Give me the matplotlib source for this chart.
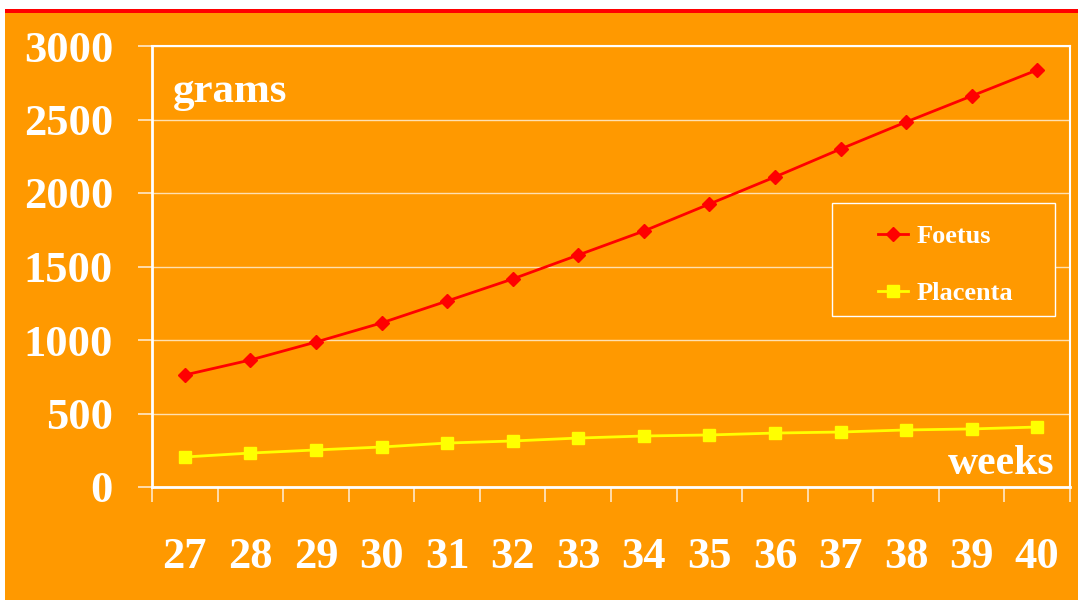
import matplotlib
matplotlib.use("Agg")
import matplotlib.pyplot as plt
from matplotlib.patches import Rectangle
import numpy as np

weeks = ["27", "28", "29", "30", "31", "32", "33", "34", "35", "36", "37", "38", "39", "40"]
foetus = [762, 864, 986, 1116, 1265, 1415, 1578, 1741, 1925, 2109, 2299, 2483, 2660, 2837]
placenta = [204, 231, 252, 272, 299, 313, 333, 347, 354, 367, 374, 388, 395, 408]
yticks = [0, 500, 1000, 1500, 2000, 2500, 3000]

ORANGE = "#FF9900"
SERIF = ["Liberation Serif", "DejaVu Serif"]

fig = plt.figure(figsize=(10.78, 6.0), dpi=100, facecolor="white")
fig.patches.append(Rectangle((5 / 1078, 0), 1 - 5 / 1078, (600 - 12) / 600,
                             transform=fig.transFigure, facecolor=ORANGE,
                             edgecolor="none", zorder=-10))
fig.patches.append(Rectangle((5 / 1078, (600 - 13) / 600), 1 - 5 / 1078, 4 / 600,
                             transform=fig.transFigure, facecolor="#FF0000",
                             edgecolor="none", zorder=-9))

AX_L, AX_R, AX_T, AX_B = 152, 1070, 46, 487
AW, AH = AX_R - AX_L, AX_B - AX_T
ax = fig.add_axes([AX_L / 1078, (600 - AX_B) / 600, AW / 1078, AH / 600])
ax.set_facecolor(ORANGE)

x = np.arange(len(weeks))
ax.plot(x, foetus, color="#FF0000", lw=2, marker="D", markersize=7,
        markerfacecolor="#FF0000", markeredgecolor="#FF0000", label="Foetus", zorder=3)
ax.plot(x, placenta, color="#FFFF00", lw=2, marker="s", markersize=9,
        markerfacecolor="#FFFF00", markeredgecolor="#FFFF00", label="Placenta", zorder=3)

ax.set_xlim(-0.5, len(weeks) - 0.5)
ax.set_ylim(0, 3000)
ax.set_yticks(yticks)
ax.set_yticklabels([str(v) for v in yticks], fontfamily=SERIF, fontweight="bold",
                   fontsize=32, color="white")
ax.set_xticks(x)
ax.set_xticklabels(weeks, fontfamily=SERIF, fontweight="bold", fontsize=32, color="white")
ax.set_xticks(np.arange(-0.5, len(weeks)), minor=True)
ax.tick_params(axis="x", which="major", length=0, pad=36)
ax.tick_params(axis="x", which="minor", length=11, width=1.2, color="#FFE8C8", direction="out")
ax.tick_params(axis="y", which="major", length=10, width=1.2, color="#FFE8C8", pad=18)

ax.grid(axis="y", color="#FFE0B0", lw=1)
ax.set_axisbelow(True)
for s in ["left", "bottom"]:
    ax.spines[s].set_color("white")
    ax.spines[s].set_linewidth(2)
for s in ["top", "right"]:
    ax.spines[s].set_color("white")
    ax.spines[s].set_linewidth(1.5)

ax.text(0.023, 0.895, "grams", transform=ax.transAxes, fontfamily=SERIF,
        fontweight="bold", fontsize=31, color="white", va="center", ha="left")
ax.text(0.983, 0.052, "weeks", transform=ax.transAxes, fontfamily=SERIF,
        fontweight="bold", fontsize=30, color="white", va="center", ha="right")

# legend box
LB_L, LB_R, LB_T, LB_B = 832, 1055, 203, 316
ax.add_patch(Rectangle(((LB_L - AX_L) / AW, (AX_B - LB_B) / AH),
                       (LB_R - LB_L) / AW, (LB_B - LB_T) / AH,
                       transform=ax.transAxes, facecolor=ORANGE, edgecolor="white",
                       lw=1, zorder=4))
leg = ax.legend(loc="upper left", bbox_to_anchor=((878 - AX_L) / AW, (AX_B - 225) / AH),
                prop={"family": SERIF, "weight": "bold", "size": 19},
                frameon=False, labelspacing=1.25, borderpad=0, handlelength=1.15,
                borderaxespad=0, handletextpad=0.3)
leg.set_zorder(5)
for t in leg.get_texts():
    t.set_color("white")

fig.savefig("out.png", dpi=100, facecolor="white")
